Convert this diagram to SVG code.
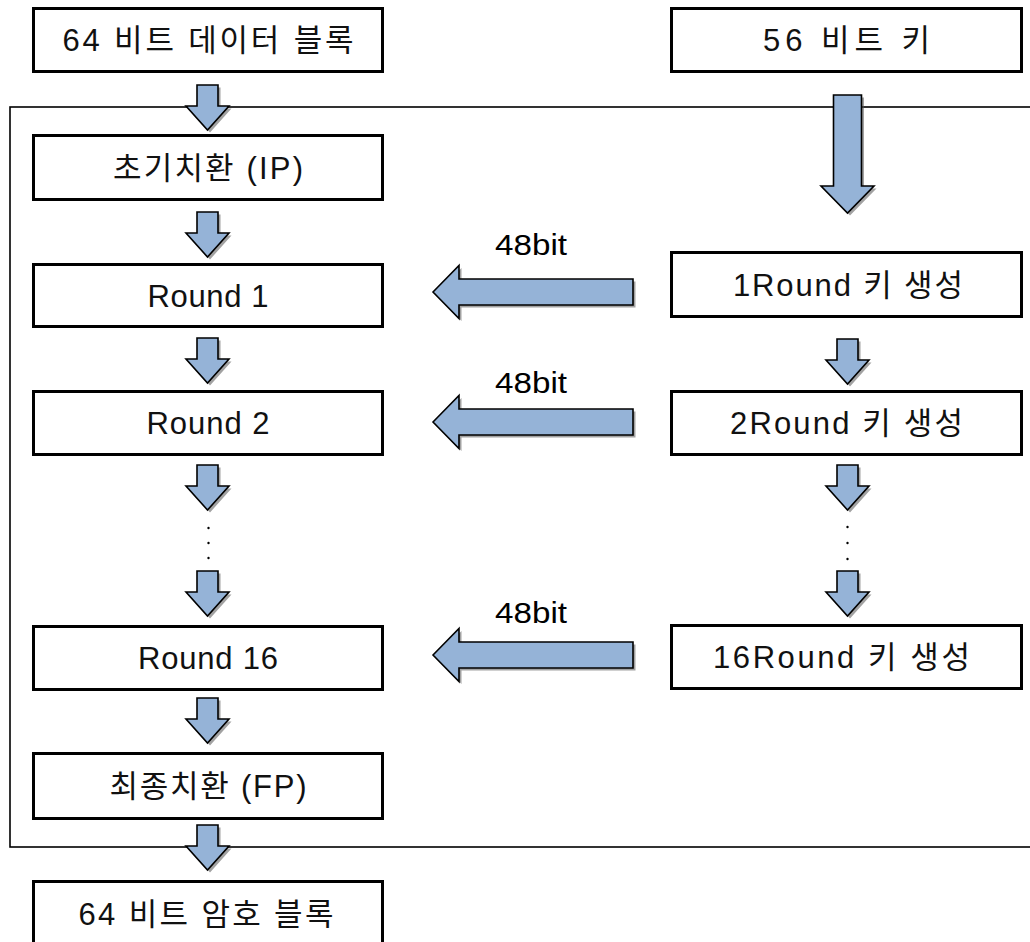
<svg xmlns="http://www.w3.org/2000/svg" xmlns:xlink="http://www.w3.org/1999/xlink" width="1030" height="942" viewBox="0 0 1030 942">
<style>
.box{fill:#fff;stroke:#000;stroke-width:3}
.frame{fill:none;stroke:#000;stroke-width:1.6}
.lbl{font-family:"Liberation Sans","Noto Sans CJK KR",sans-serif;font-size:31px;fill:#111;text-anchor:middle}
.bit{font-family:"Liberation Sans","Noto Sans CJK KR",sans-serif;font-size:30px;fill:#000;text-anchor:middle}
.arr{fill:#95B3D7;stroke:#000;stroke-width:1.6;stroke-linejoin:miter}
.sh{fill:#555;opacity:0.55}
.dot{fill:#000}
</style>
<defs>
<path id="dn" d="M-10.5,0 H10.5 V21 H21.5 L0,45 L-21.5,21 H-10.5 Z"/>
<path id="bigdn" d="M-14,0 H14 V91 H26.5 L0,118 L-26.5,91 H-14 Z"/>
<path id="lf" d="M0,0 L26,-26.5 V-13 H200 V13 H26 V26.5 Z"/>
</defs>
<rect id="frame" class="frame" x="10" y="107" width="1040" height="740"/>
<g id="connectors">
<g transform="translate(207.5,85)"><use href="#dn" class="sh" transform="translate(2.5,2.5)"/><use href="#dn" class="arr"/></g>
<g transform="translate(207.5,212)"><use href="#dn" class="sh" transform="translate(2.5,2.5)"/><use href="#dn" class="arr"/></g>
<g transform="translate(207.5,338)"><use href="#dn" class="sh" transform="translate(2.5,2.5)"/><use href="#dn" class="arr"/></g>
<g transform="translate(207.5,465)"><use href="#dn" class="sh" transform="translate(2.5,2.5)"/><use href="#dn" class="arr"/></g>
<g transform="translate(207.5,571)"><use href="#dn" class="sh" transform="translate(2.5,2.5)"/><use href="#dn" class="arr"/></g>
<g transform="translate(207.5,698)"><use href="#dn" class="sh" transform="translate(2.5,2.5)"/><use href="#dn" class="arr"/></g>
<g transform="translate(207.5,825)"><use href="#dn" class="sh" transform="translate(2.5,2.5)"/><use href="#dn" class="arr"/></g>
<g transform="translate(847.5,95)"><use href="#bigdn" class="sh" transform="translate(2.5,2.5)"/><use href="#bigdn" class="arr"/></g>
<g transform="translate(847.5,339)"><use href="#dn" class="sh" transform="translate(2.5,2.5)"/><use href="#dn" class="arr"/></g>
<g transform="translate(847.5,465)"><use href="#dn" class="sh" transform="translate(2.5,2.5)"/><use href="#dn" class="arr"/></g>
<g transform="translate(847.5,571)"><use href="#dn" class="sh" transform="translate(2.5,2.5)"/><use href="#dn" class="arr"/></g>
<g transform="translate(433,292)"><use href="#lf" class="sh" transform="translate(2.5,2.5)"/><use href="#lf" class="arr"/></g>
<g transform="translate(433,422)"><use href="#lf" class="sh" transform="translate(2.5,2.5)"/><use href="#lf" class="arr"/></g>
<g transform="translate(433,655)"><use href="#lf" class="sh" transform="translate(2.5,2.5)"/><use href="#lf" class="arr"/></g>
<text class="bit" x="531" y="255" textLength="72" lengthAdjust="spacingAndGlyphs">48bit</text>
<text class="bit" x="531" y="393" textLength="72" lengthAdjust="spacingAndGlyphs">48bit</text>
<text class="bit" x="531" y="623" textLength="72" lengthAdjust="spacingAndGlyphs">48bit</text>
<circle class="dot" cx="208.5" cy="528" r="1.2"/>
<circle class="dot" cx="208.5" cy="543" r="1.2"/>
<circle class="dot" cx="208.5" cy="558" r="1.2"/>
<circle class="dot" cx="847.5" cy="527" r="1.2"/>
<circle class="dot" cx="847.5" cy="543" r="1.2"/>
<circle class="dot" cx="847.5" cy="559" r="1.2"/>
</g>
<g id="data-in"><rect class="box" x="33.5" y="8.5" width="349" height="63"/><text class="lbl" x="208" y="51" textLength="291">64 비트 데이터 블록</text></g>
<g id="key-in"><rect class="box" x="671.5" y="8.5" width="350" height="63"/><text class="lbl" x="846.5" y="51" textLength="167">56 비트 키</text></g>
<g id="ip"><rect class="box" x="33.5" y="135.5" width="349" height="64"/><text class="lbl" x="208" y="179" textLength="190">초기치환 (IP)</text></g>
<g id="round1"><rect class="box" x="33.5" y="264.5" width="349" height="62"/><text class="lbl" x="208" y="307" textLength="121">Round 1</text></g>
<g id="round2"><rect class="box" x="33.5" y="391.5" width="349" height="63"/><text class="lbl" x="208" y="434" textLength="123">Round 2</text></g>
<g id="round16"><rect class="box" x="33.5" y="626.5" width="349" height="63"/><text class="lbl" x="208" y="669" textLength="140">Round 16</text></g>
<g id="fp"><rect class="box" x="33.5" y="753.5" width="349" height="65"/><text class="lbl" x="208" y="797" textLength="197">최종치환 (FP)</text></g>
<g id="data-out"><rect class="box" x="33.5" y="881.5" width="349" height="66"/><text class="lbl" x="206" y="925" textLength="255">64 비트 암호 블록</text></g>
<g id="key1"><rect class="box" x="671.5" y="252.5" width="350" height="64"/><text class="lbl" x="848" y="296" textLength="230">1Round 키 생성</text></g>
<g id="key2"><rect class="box" x="671.5" y="391.5" width="350" height="63"/><text class="lbl" x="846.5" y="434" textLength="233">2Round 키 생성</text></g>
<g id="key16"><rect class="box" x="671.5" y="625.5" width="350" height="63"/><text class="lbl" x="841.5" y="668" textLength="257">16Round 키 생성</text></g>
</svg>
